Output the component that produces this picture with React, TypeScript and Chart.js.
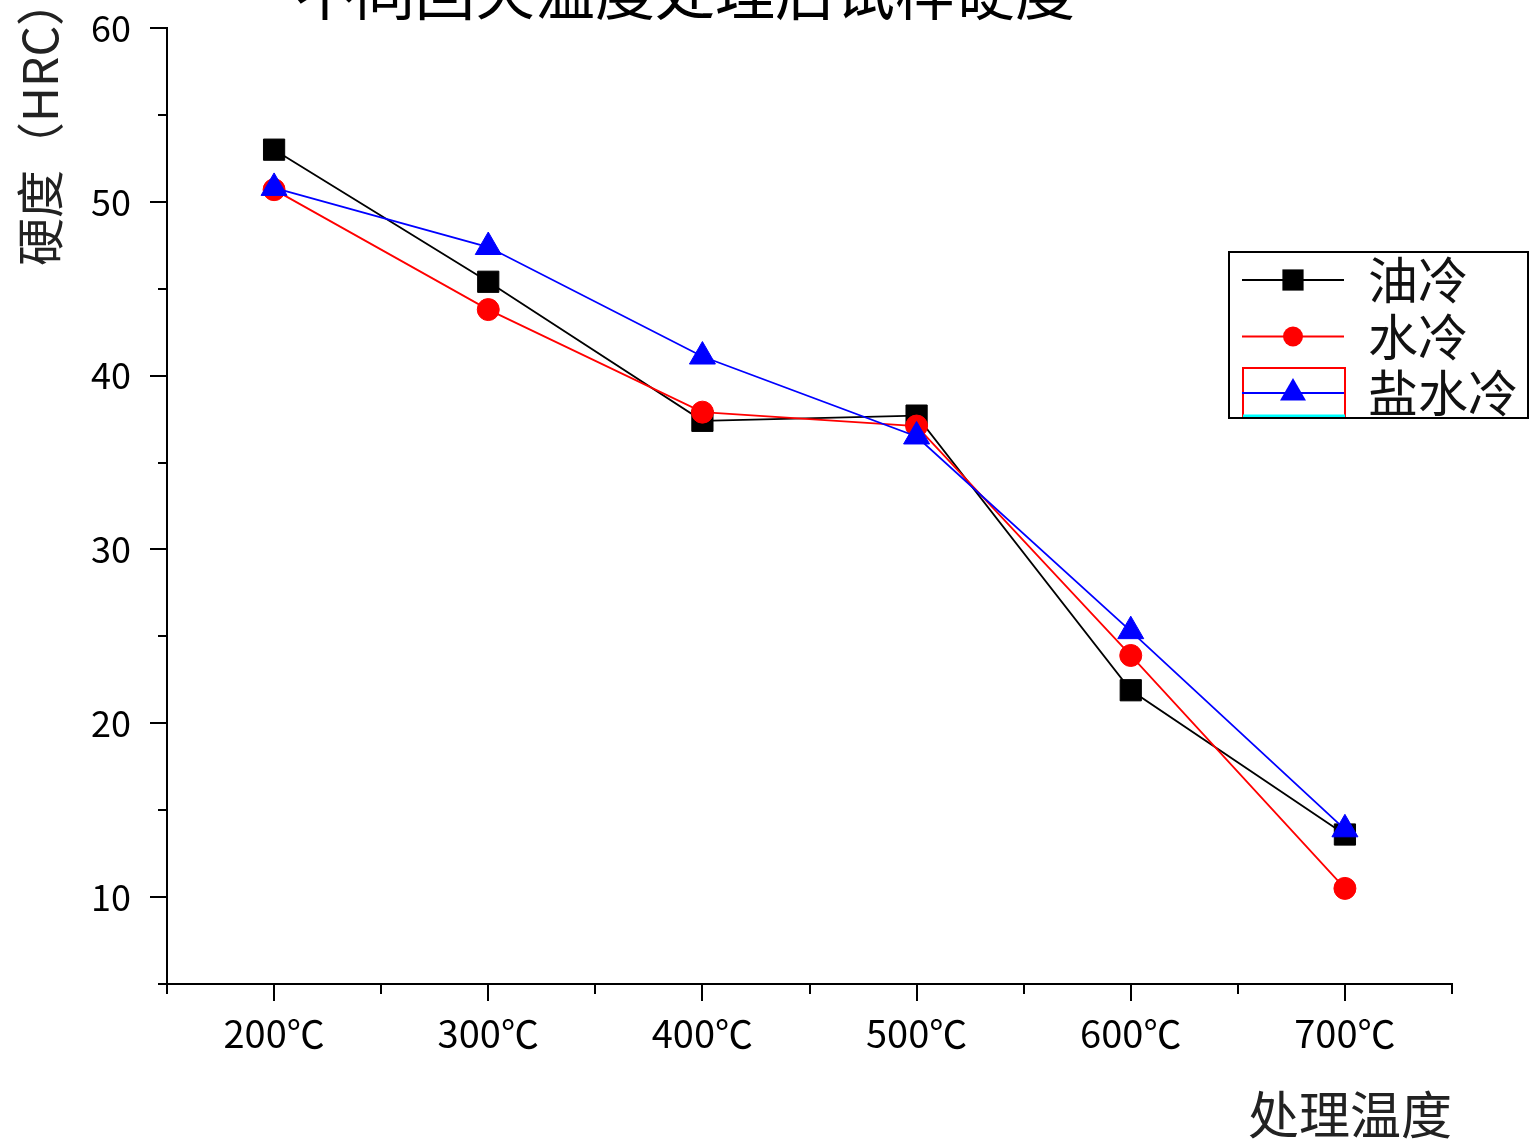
import React, { useEffect, useRef } from 'react';
import { Chart, registerables } from 'chart.js';

Chart.register(...registerables);

// ---- data ----
const chartTitle = '不同回火温度处理后试样硬度';
const xAxisTitle = '处理温度';
const yAxisTitle = '硬度（HRC）';
const temperatures = [200, 300, 400, 500, 600, 700];
const xTickLabels = ['200℃', '300℃', '400℃', '500℃', '600℃', '700℃'];
const seriesLabels = ['油冷', '水冷', '盐水冷'];
const oilCooled = [53.0, 45.4, 37.4, 37.7, 21.9, 13.6];
const waterCooled = [50.7, 43.8, 37.9, 37.1, 23.9, 10.5];
const brineCooled = [50.8, 47.4, 41.1, 36.5, 25.3, 13.9];
const xRange = [150, 750];
const yRange = [5, 60];

const FONT = "'Noto Sans CJK SC', 'Noto Sans', sans-serif";

function drawMarker(ctx: CanvasRenderingContext2D, style: string, x: number, y: number, r: number) {
  ctx.beginPath();
  if (style === 'rect') {
    const s = Math.SQRT1_2 * r;
    ctx.rect(x - s, y - s, 2 * s, 2 * s);
  } else if (style === 'triangle') {
    ctx.moveTo(x, y - r);
    ctx.lineTo(x + r * Math.sin((2 * Math.PI) / 3), y - r * Math.cos((2 * Math.PI) / 3));
    ctx.lineTo(x + r * Math.sin((4 * Math.PI) / 3), y - r * Math.cos((4 * Math.PI) / 3));
    ctx.closePath();
  } else {
    ctx.arc(x, y, r, 0, Math.PI * 2);
  }
  ctx.fill();
}

// Title (cut off by the top edge in the original) and the y-axis title
const textPlugin = {
  id: 'extraText',
  afterDraw(chart: any) {
    const ctx = chart.ctx;
    ctx.save();
    ctx.font = `60px ${FONT}`;
    ctx.fillStyle = '#000';
    ctx.textAlign = 'center';
    ctx.textBaseline = 'middle';
    ctx.fillText(chartTitle, 685, -8);
    ctx.restore();

    ctx.save();
    ctx.translate(40, 122);
    ctx.rotate(-Math.PI / 2);
    ctx.font = `48px ${FONT}`;
    ctx.fillStyle = '#222';
    ctx.textAlign = 'center';
    ctx.textBaseline = 'middle';
    ctx.fillText(yAxisTitle, 0, 0);
    ctx.restore();
  },
};

const tickMarksPlugin = {
  id: 'tickMarks',
  afterDraw(chart: any) {
    const ctx = chart.ctx;
    const xs = chart.scales.x;
    const ys = chart.scales.y;
    ctx.save();
    ctx.strokeStyle = '#000';
    ctx.lineWidth = 2;
    ctx.beginPath();
    xs.ticks.forEach((t: any) => {
      const px = Math.round(xs.getPixelForValue(t.value));
      const len = t.value % 100 === 0 ? 17 : 10;
      ctx.moveTo(px, xs.top);
      ctx.lineTo(px, xs.top + len);
    });
    ys.ticks.forEach((t: any) => {
      const py = Math.round(ys.getPixelForValue(t.value));
      const len = t.value % 10 === 0 ? 17 : 9;
      ctx.moveTo(ys.right, py);
      ctx.lineTo(ys.right - len, py);
    });
    ctx.stroke();
    ctx.restore();
  },
};

const boxLegendPlugin = {
  id: 'boxLegend',
  afterDraw(chart: any) {
    const ctx = chart.ctx;
    const left = 1229;
    const top = 252;
    const w = 299;
    const h = 166;
    ctx.save();
    ctx.fillStyle = '#fff';
    ctx.fillRect(left, top, w, h);
    chart.data.datasets.forEach((ds: any, i: number) => {
      const cy = 280 + i * 56.5;
      if (i === 2) {
        // stray frame around the last legend sample in the original
        ctx.strokeStyle = '#ff0000';
        ctx.lineWidth = 2;
        ctx.strokeRect(1243, 368, 102, 48);
        ctx.strokeStyle = '#00ffff';
        ctx.lineWidth = 3;
        ctx.beginPath();
        ctx.moveTo(1243, 416);
        ctx.lineTo(1345, 416);
        ctx.stroke();
      }
      ctx.strokeStyle = ds.borderColor;
      ctx.lineWidth = 2;
      ctx.beginPath();
      ctx.moveTo(1242, cy);
      ctx.lineTo(1344, cy);
      ctx.stroke();
      ctx.fillStyle = ds.pointBackgroundColor;
      drawMarker(ctx, ds.pointStyle, 1293, cy, ds.pointStyle === 'circle' ? 10 : 15);
      ctx.fillStyle = '#111';
      ctx.font = `50px ${FONT}`;
      ctx.textAlign = 'left';
      ctx.textBaseline = 'middle';
      ctx.fillText(ds.label, 1368, cy);
    });
    ctx.strokeStyle = '#000';
    ctx.lineWidth = 2;
    ctx.strokeRect(left, top, w, h);
    ctx.restore();
  },
};

function toPoints(values: number[]) {
  return temperatures.map((t, i) => ({ x: t, y: values[i] }));
}

export default function App() {
  const canvasRef = useRef<HTMLCanvasElement | null>(null);

  useEffect(() => {
    if (!canvasRef.current) return;
    const chart = new Chart(canvasRef.current, {
      type: 'line',
      data: {
        datasets: [
          {
            label: seriesLabels[0],
            data: toPoints(oilCooled),
            borderColor: '#000000',
            backgroundColor: '#000000',
            pointBackgroundColor: '#000000',
            pointBorderColor: '#000000',
            pointStyle: 'rect',
            pointRadius: 15,
            pointBorderWidth: 1,
            borderWidth: 1.8,
            tension: 0,
            order: 3,
          },
          {
            label: seriesLabels[1],
            data: toPoints(waterCooled),
            borderColor: '#ff0000',
            backgroundColor: '#ff0000',
            pointBackgroundColor: '#ff0000',
            pointBorderColor: '#ff0000',
            pointStyle: 'circle',
            pointRadius: 11,
            pointBorderWidth: 1,
            borderWidth: 1.8,
            tension: 0,
            order: 2,
          },
          {
            label: seriesLabels[2],
            data: toPoints(brineCooled),
            borderColor: '#0000ff',
            backgroundColor: '#0000ff',
            pointBackgroundColor: '#0000ff',
            pointBorderColor: '#0000ff',
            pointStyle: 'triangle',
            pointRadius: 15,
            pointBorderWidth: 1,
            borderWidth: 1.8,
            tension: 0,
            order: 1,
          },
        ],
      },
      options: {
        animation: false,
        responsive: true,
        maintainAspectRatio: false,
        layout: { padding: { left: 0, top: 28, right: 78, bottom: 0 } },
        plugins: {
          legend: { display: false },
          title: { display: false },
          tooltip: { enabled: false },
        },
        scales: {
          x: {
            type: 'linear',
            min: xRange[0],
            max: xRange[1],
            grid: { display: false },
            border: { display: true, color: '#000', width: 2 },
            ticks: {
              stepSize: 50,
              autoSkip: false,
              maxRotation: 0,
              padding: 19,
              color: '#000',
              font: { size: 38, family: FONT },
              callback: (v: any) => {
                const idx = temperatures.indexOf(Number(v));
                return idx >= 0 ? xTickLabels[idx] : '';
              },
            },
            title: {
              display: true,
              text: xAxisTitle,
              align: 'end',
              color: '#222',
              font: { size: 51, family: FONT, lineHeight: 1 },
              padding: { top: 0, bottom: 1 },
            },
            afterFit: (scale: any) => {
              scale.height = 157;
              scale.paddingLeft = 0;
              scale.paddingRight = 0;
            },
          },
          y: {
            type: 'linear',
            min: yRange[0],
            max: yRange[1],
            grid: { display: false },
            border: { display: true, color: '#000', width: 2 },
            ticks: {
              stepSize: 5,
              autoSkip: false,
              padding: 28,
              color: '#000',
              font: { size: 36, family: FONT },
              callback: (v: any) => (Number(v) % 10 === 0 ? String(v) : ''),
            },
            afterFit: (scale: any) => {
              scale.width = 167;
              scale.paddingTop = 0;
              scale.paddingBottom = 0;
            },
          },
        },
      } as any,
      plugins: [tickMarksPlugin, textPlugin, boxLegendPlugin],
    });
    return () => chart.destroy();
  }, []);

  return (
    <div style={{ position: 'fixed', left: 0, top: 0, width: 1530, height: 1141, background: '#fff' }}>
      <canvas ref={canvasRef} />
    </div>
  );
}
